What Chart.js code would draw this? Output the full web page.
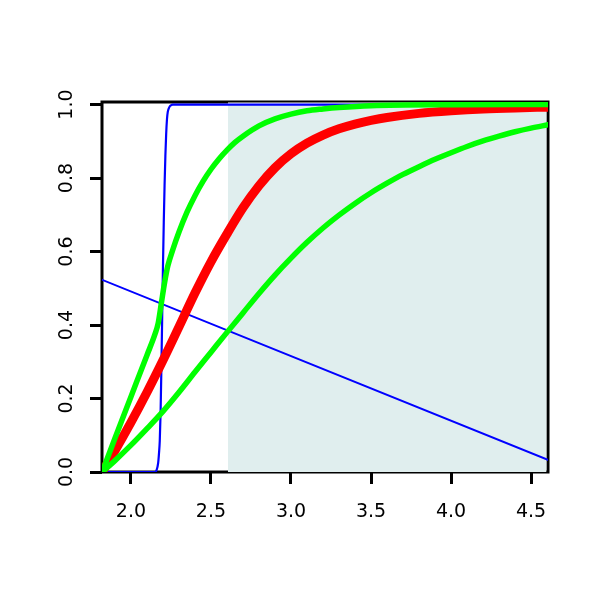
<!DOCTYPE html>
<html>
<head>
<meta charset="utf-8">
<script src="https://cdn.jsdelivr.net/npm/chart.js@4/dist/chart.umd.min.js"></script>
<style>
  html, body { margin: 0; padding: 0; background: #fff; }
  canvas { display: block; }
</style>
</head>
<body>
<canvas id="chart" width="600" height="600"></canvas>
<script>
// axis limits and tick labels
const X_MIN = 1.819;
const X_MAX = 4.606;
const Y_MIN = 0;
const Y_MAX = 1.007;
const X_TICKS = [2.0, 2.5, 3.0, 3.5, 4.0, 4.5];
const Y_TICKS = [0.0, 0.2, 0.4, 0.6, 0.8, 1.0];

// shaded band (x from 2.6 to the right edge)
const shadeX = [2.606, 4.597];
const shadeY = [1.003, 1.003];

// straight blue line
const lineX = [1.82, 4.605];
const lineY = [0.523, 0.033];

// steep blue step
const stepX = [1.82, 2.15, 2.16, 2.17, 2.175, 2.18, 2.185, 2.19, 2.195, 2.2, 2.205, 2.21, 2.215, 2.22, 2.225, 2.23, 2.24, 2.25, 2.26, 4.606];
const stepY = [0, 0, 0.005, 0.025, 0.05, 0.085, 0.16, 0.28, 0.42, 0.56, 0.68, 0.78, 0.86, 0.92, 0.96, 0.98, 0.993, 0.998, 1.0, 1.0];

// thick red curve
const redX = [1.82, 1.9, 2.0, 2.1, 2.2, 2.3, 2.4, 2.5, 2.6, 2.7, 2.8, 2.9, 3.0, 3.1, 3.2, 3.3, 3.4, 3.5, 3.6, 3.8, 4.0, 4.2, 4.4, 4.606];
const redY = [0, 0.058, 0.135, 0.217, 0.304, 0.395, 0.487, 0.572, 0.648, 0.719, 0.779, 0.828, 0.866, 0.895, 0.917, 0.934, 0.947, 0.957, 0.965, 0.976, 0.983, 0.988, 0.991, 0.993];

// fast green curve
const greenFastX = [1.82, 1.9, 2.0, 2.1, 2.15, 2.17, 2.19, 2.21, 2.23, 2.26, 2.3, 2.35, 2.4, 2.45, 2.5, 2.55, 2.6, 2.65, 2.7, 2.8, 2.9, 3.0, 3.1, 3.2, 3.3, 3.5, 4.0, 4.606];
const greenFastY = [0, 0.092, 0.205, 0.318, 0.375, 0.405, 0.46, 0.515, 0.56, 0.603, 0.653, 0.707, 0.752, 0.791, 0.824, 0.852, 0.876, 0.897, 0.914, 0.942, 0.961, 0.974, 0.983, 0.988, 0.992, 0.997, 0.9995, 1.0];

// slow green curve
const greenSlowX = [1.82, 1.9, 2.0, 2.1, 2.2, 2.3, 2.4, 2.5, 2.6, 2.7, 2.8, 2.9, 3.0, 3.1, 3.2, 3.3, 3.4, 3.5, 3.6, 3.7, 3.8, 3.9, 4.0, 4.1, 4.2, 4.3, 4.4, 4.5, 4.606];
const greenSlowY = [0, 0.031, 0.073, 0.118, 0.165, 0.217, 0.272, 0.326, 0.38, 0.433, 0.486, 0.536, 0.582, 0.625, 0.664, 0.699, 0.731, 0.76, 0.786, 0.81, 0.831, 0.851, 0.869, 0.886, 0.901, 0.914, 0.926, 0.936, 0.945];

const RED = "#FF0000";
const GREEN = "#00FF00";
const BLUE = "#0000FF";
const SHADE = "#E0EEEE";

function pts(xs, ys) {
  return xs.map((x, i) => ({ x, y: ys[i] }));
}

function curve(xs, ys, color, width) {
  return {
    data: pts(xs, ys),
    borderColor: color,
    borderWidth: width,
    pointRadius: 0,
    fill: false,
    cubicInterpolationMode: "monotone",
    borderCapStyle: "round",
    borderJoinStyle: "round",
  };
}

// R-style box round the plot region, drawn under the data
const boxPlugin = {
  id: "box",
  beforeDatasetsDraw(chart) {
    const { ctx, chartArea: a } = chart;
    ctx.save();
    ctx.strokeStyle = "#000";
    ctx.lineWidth = 3;
    ctx.strokeRect(a.left, a.top, a.right - a.left, a.bottom - a.top);
    ctx.restore();
  },
};

const tickFont = { family: "DejaVu Sans", size: 19 };

new Chart(document.getElementById("chart"), {
  type: "line",
  data: {
    datasets: [
      curve(greenFastX, greenFastY, GREEN, 5.5),
      curve(greenSlowX, greenSlowY, GREEN, 5.5),
      curve(redX, redY, RED, 9),
      curve(stepX, stepY, BLUE, 2.2),
      { ...curve(lineX, lineY, BLUE, 2), cubicInterpolationMode: "default", tension: 0 },
      {
        data: pts(shadeX, shadeY),
        borderColor: "#FFFFFF",
        borderWidth: 2,
        borderCapStyle: "butt",
        backgroundColor: SHADE,
        pointRadius: 0,
        tension: 0,
        fill: "origin",
      },
    ],
  },
  options: {
    responsive: false,
    animation: false,
    layout: { padding: { top: 102, right: 52, left: 0, bottom: 0 } },
    plugins: { legend: { display: false }, tooltip: { enabled: false } },
    scales: {
      x: {
        type: "linear",
        min: X_MIN,
        max: X_MAX,
        afterFit: (s) => { s.height = 128; },
        afterBuildTicks: (s) => { s.ticks = X_TICKS.map((v) => ({ value: v })); },
        border: { display: false },
        grid: { display: true, drawOnChartArea: false, drawTicks: true, tickLength: 12, color: "#000", lineWidth: 3 },
        ticks: {
          color: "#000",
          font: tickFont,
          padding: 16.5,
          maxRotation: 0,
          minRotation: 0,
          callback: (v) => v.toFixed(1),
        },
      },
      y: {
        type: "linear",
        min: Y_MIN,
        max: Y_MAX,
        afterFit: (s) => { s.width = 102; },
        afterBuildTicks: (s) => { s.ticks = Y_TICKS.map((v) => ({ value: v })); },
        border: { display: false },
        grid: { display: true, drawOnChartArea: false, drawTicks: true, tickLength: 12, color: "#000", lineWidth: 3 },
        ticks: {
          color: "#000",
          font: tickFont,
          padding: 8,
          minRotation: 90,
          maxRotation: 90,
          crossAlign: "center",
          callback: (v) => v.toFixed(1),
        },
      },
    },
  },
  plugins: [boxPlugin],
});
</script>
</body>
</html>
